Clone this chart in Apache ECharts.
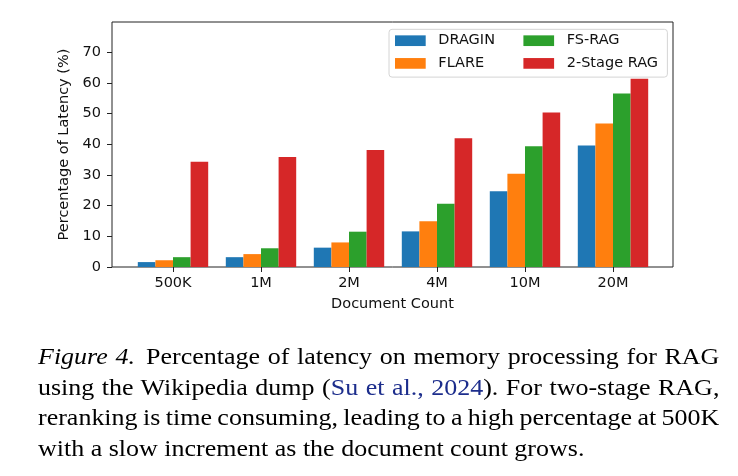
<!DOCTYPE html>
<html>
<head>
<meta charset="utf-8">
<script src="https://cdn.jsdelivr.net/npm/echarts@6/dist/echarts.min.js"></script>
<style>
  html, body { margin: 0; padding: 0; background: #fff; }
  #wrap { position: relative; width: 738px; height: 476px; }
  #chart { position: absolute; left: 0; top: 0; width: 738px; height: 476px; }
  #caption {
    position: absolute; left: 38px; top: 342px; width: 603px;
    transform: scaleX(1.13); transform-origin: 0 0;
    font-family: "Liberation Serif", serif; font-size: 23px; line-height: 30.5px; color: #000;
  }
  #caption .ln { text-align: justify; text-align-last: justify; white-space: nowrap; word-spacing: -1.2px; }
  #caption .ln.last { text-align-last: left; word-spacing: 0; }
  #caption i { margin-right: 3px; }
  #caption .cite { color: #1c2d8c; }
</style>
</head>
<body>
<div id="wrap">
  <div id="chart"></div>
  <div id="caption">
    <div class="ln"><i>Figure 4.</i> Percentage of latency on memory processing for RAG</div>
    <div class="ln">using the Wikipedia dump (<span class="cite">Su et al., 2024</span>). For two-stage RAG,</div>
    <div class="ln">reranking is time consuming, leading to a high percentage at 500K</div>
    <div class="ln last">with a slow increment as the document count grows.</div>
  </div>
</div>
<script>
// document counts on the x axis
const categories = ['500K', '1M', '2M', '4M', '10M', '20M'];
// percentage of latency (%) per method
const dragin = [1.6, 3.2, 6.3, 11.6, 24.7, 39.6];
const flare = [2.2, 4.2, 8.0, 14.9, 30.4, 46.7];
const fsRag = [3.2, 6.1, 11.5, 20.6, 39.3, 56.5];
const twoStage = [34.3, 35.8, 38.1, 41.9, 50.3, 61.3];
const yTicks = [0, 10, 20, 30, 40, 50, 60, 70];

const font = 'DejaVu Sans';
const yMax = 79.8;

const myChart = echarts.init(document.getElementById('chart'));

const legendText = {
  fontFamily: font,
  fontSize: 14.5,
  color: '#111',
  lineHeight: 16,
  padding: [0, 0, 0, 7.6]
};

myChart.setOption({
  animation: false,
  color: ['#1f77b4', '#ff7f0e', '#2ca02c', '#d62728'],
  textStyle: { fontFamily: font },
  grid: [
    // frame + y axis
    { left: 112, top: 22, width: 561, height: 245, show: true, borderColor: '#222', borderWidth: 1, backgroundColor: 'transparent' },
    // bars (matplotlib-like x margins)
    { left: 129, top: 22, width: 528, height: 245 }
  ],
  legend: [
    {
      data: ['DRAGIN', 'FLARE'],
      orient: 'vertical',
      left: 389,
      top: 29.3,
      padding: [3.4, 172.4, 5.7, 6],
      itemWidth: 30.7,
      itemHeight: 10.7,
      itemGap: 6.7,
      icon: 'rect',
      selectedMode: false,
      backgroundColor: 'rgba(255,255,255,0.85)',
      borderColor: '#d4d4d4',
      borderWidth: 1,
      borderRadius: 3,
      textStyle: legendText,
      z: 5
    },
    {
      data: ['FS-RAG', '2-Stage RAG'],
      orient: 'vertical',
      left: 523.4,
      top: 32.7,
      padding: 0,
      itemWidth: 30.7,
      itemHeight: 10.7,
      itemGap: 6.7,
      icon: 'rect',
      selectedMode: false,
      textStyle: legendText,
      z: 6
    }
  ],
  xAxis: [
    {
      type: 'value', gridIndex: 0, min: 0, max: 1,
      name: 'Document Count', nameLocation: 'middle', nameGap: 30,
      nameTextStyle: { fontFamily: font, fontSize: 14.5, color: '#111' },
      axisLine: { show: false }, axisTick: { show: false },
      axisLabel: { show: false }, splitLine: { show: false }
    },
    {
      type: 'category', gridIndex: 1, data: categories,
      axisLine: { show: false },
      axisTick: { show: true, alignWithLabel: true, length: 5, lineStyle: { color: '#222' } },
      axisLabel: { interval: 0, margin: 9, fontFamily: font, fontSize: 14.5, color: '#111' },
      splitLine: { show: false }
    }
  ],
  yAxis: [
    {
      type: 'value', gridIndex: 0, min: 0, max: yMax, interval: 10,
      name: 'Percentage of Latency (%)', nameLocation: 'middle', nameGap: 28,
      nameTextStyle: { fontFamily: font, fontSize: 14.5, color: '#111' },
      axisLine: { show: false },
      axisTick: { show: true, length: 5, customValues: yTicks, lineStyle: { color: '#222' } },
      axisLabel: { margin: 11, customValues: yTicks, fontFamily: font, fontSize: 14.5, color: '#111' },
      splitLine: { show: false }
    },
    {
      type: 'value', gridIndex: 1, min: 0, max: yMax,
      axisLine: { show: false }, axisTick: { show: false },
      axisLabel: { show: false }, splitLine: { show: false }
    }
  ],
  series: [
    { name: 'DRAGIN', type: 'bar', xAxisIndex: 1, yAxisIndex: 1, barWidth: 17.6, barGap: 0, data: dragin },
    { name: 'FLARE', type: 'bar', xAxisIndex: 1, yAxisIndex: 1, barWidth: 17.6, barGap: 0, data: flare },
    { name: 'FS-RAG', type: 'bar', xAxisIndex: 1, yAxisIndex: 1, barWidth: 17.6, barGap: 0, data: fsRag },
    { name: '2-Stage RAG', type: 'bar', xAxisIndex: 1, yAxisIndex: 1, barWidth: 17.6, barGap: 0, data: twoStage }
  ]
});
</script>
</body>
</html>
